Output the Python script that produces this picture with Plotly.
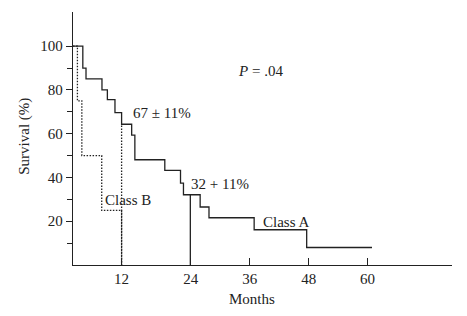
import plotly.graph_objects as go

# Class A (solid) Kaplan-Meier steps: event times (months) and survival (%)
a_times = [0, 2.0, 2.65, 5.9, 7.0, 8.55, 9.9, 11.95, 12.6, 18.7, 21.9, 22.5, 25.9, 27.7, 36.9, 47.6, 60.9]
a_surv = [100, 90, 85, 80, 75.6, 69.6, 64.3, 59.3, 48.1, 43.2, 37.4, 32.1, 26.5, 21.6, 16.1, 8.0, 8.0]

# Class B (dotted)
b_times = [0, 0.9, 1.8, 5.85, 9.9]
b_surv = [100, 75, 50, 25, 0]

# reference drop lines
drop_b_time = 9.9
drop_b_surv = 64.3
drop_a_time = 23.9
drop_a_surv = 32.1

x_tickvals = [9.9, 24, 36, 48, 60]
x_ticktext = ["12", "24", "36", "48", "60"]
y_tickvals = [20, 40, 60, 80, 100]
y_minorvals = [10, 30, 50, 70, 90]

FONT = "Liberation Serif"
INK = "#222222"
DOT = "1.5px,1.5px"

fig = go.Figure()
fig.add_trace(go.Scatter(x=a_times, y=a_surv, mode="lines", line=dict(shape="hv", color=INK, width=1.3),
                         showlegend=False, hoverinfo="skip"))
fig.add_trace(go.Scatter(x=b_times, y=b_surv, mode="lines", line=dict(shape="hv", color=INK, width=1.3, dash=DOT),
                         showlegend=False, hoverinfo="skip"))
fig.add_trace(go.Scatter(x=[drop_b_time, drop_b_time], y=[0, drop_b_surv], mode="lines",
                         line=dict(color=INK, width=1.3, dash=DOT), showlegend=False, hoverinfo="skip"))
fig.add_trace(go.Scatter(x=[drop_a_time, drop_a_time], y=[0, drop_a_surv], mode="lines",
                         line=dict(color=INK, width=1.3), showlegend=False, hoverinfo="skip"))

ann_font = dict(family=FONT, size=15, color=INK)
fig.add_annotation(x=11.8, y=69.5, text="67 ± 11%", showarrow=False, xanchor="left", yanchor="middle", font=ann_font)
fig.add_annotation(x=23.6, y=37.2, text="32 + 11%", showarrow=False, xanchor="left", yanchor="middle", font=ann_font)
fig.add_annotation(x=6.2, y=29.5, text="Class B", showarrow=False, xanchor="left", yanchor="middle", font=ann_font)
fig.add_annotation(x=38.3, y=19.6, text="Class A", showarrow=False, xanchor="left", yanchor="middle", font=ann_font)
fig.add_annotation(x=38.2, y=88.5, text="<i>P</i> = .04", showarrow=False, xanchor="center", yanchor="middle", font=ann_font)

# axis titles as paper annotations
fig.add_annotation(xref="paper", yref="paper", x=-0.1266, y=0.507, text="Survival (%)", textangle=-90,
                   showarrow=False, xanchor="center", yanchor="middle", font=dict(family=FONT, size=15, color=INK))
fig.add_annotation(xref="paper", yref="paper", x=0.4715, y=-0.134, text="Months",
                   showarrow=False, xanchor="center", yanchor="middle", font=dict(family=FONT, size=15, color=INK))

# the page body adds an 8px offset, so the margins are shifted up/left by 8px
fig.update_layout(
    width=467, height=316,
    margin=dict(l=65, r=23, t=4, b=59),
    paper_bgcolor="white", plot_bgcolor="white",
    font=dict(family=FONT, size=15, color=INK),
    xaxis=dict(range=[0, 77.2], showgrid=False, zeroline=False, showline=True, linecolor=INK, linewidth=1.3,
               tickmode="array", tickvals=x_tickvals, ticktext=x_ticktext, ticks="inside", ticklen=7,
               tickcolor=INK, tickwidth=1.2, automargin=False, tickfont=dict(family=FONT, size=15, color=INK)),
    yaxis=dict(range=[0, 115.6], showgrid=False, zeroline=False, showline=True, linecolor=INK, linewidth=1.3,
               tickmode="array", tickvals=y_tickvals, ticks="outside", ticklen=6, tickcolor=INK, tickwidth=1.2,
               minor=dict(tickmode="array", tickvals=y_minorvals, ticks="outside", ticklen=5, tickcolor=INK, tickwidth=1.2),
               automargin=False, tickfont=dict(family=FONT, size=15, color=INK)),
)

fig.write_html("out.html")
